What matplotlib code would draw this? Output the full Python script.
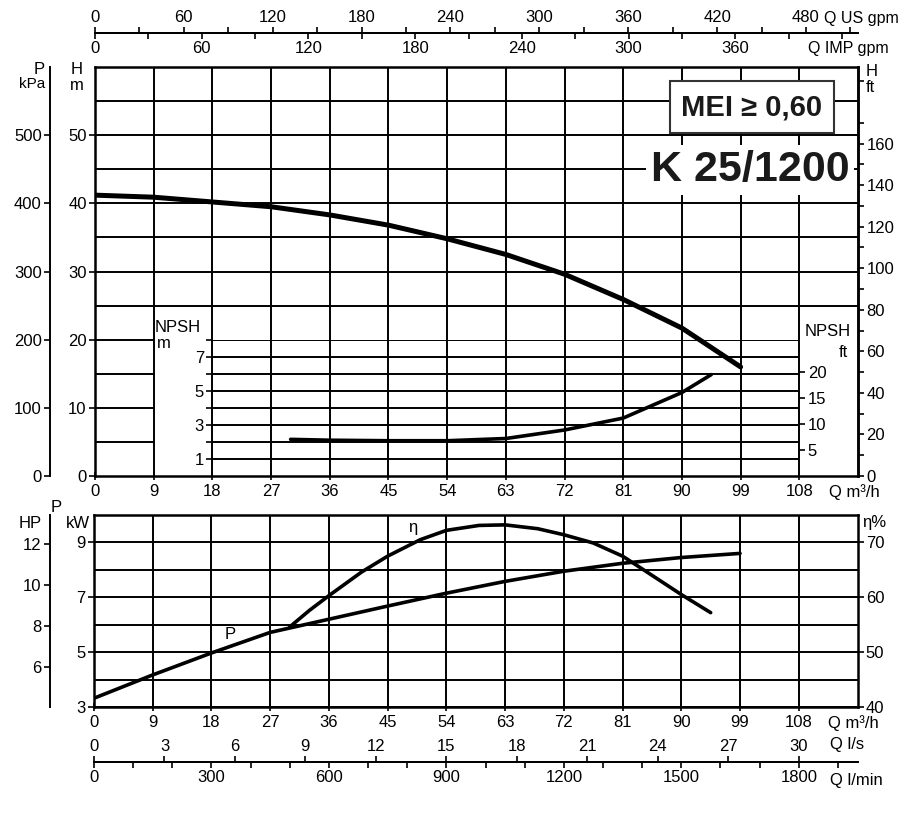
import numpy as np
import matplotlib.pyplot as plt

plt.rcParams['font.family'] = ['Liberation Sans', 'DejaVu Sans']
plt.rcParams['font.size'] = 12

# ---- values ----
q_head = [0, 9, 18, 27, 36, 45, 54, 63, 72, 81, 90, 99]
head_m = [41.2, 40.9, 40.2, 39.5, 38.3, 36.8, 34.8, 32.5, 29.6, 25.9, 21.7, 16.0]

q_npsh = [30, 36, 45, 54, 63, 72, 81, 90, 94.5]
npsh_m = [2.15, 2.1, 2.07, 2.07, 2.2, 2.7, 3.4, 4.9, 5.95]

q_power = [0, 9, 18, 27, 30, 36, 45, 54, 63, 72, 81, 90, 99]
power_kw = [3.32, 4.17, 4.97, 5.72, 5.88, 6.2, 6.68, 7.15, 7.58, 7.95, 8.24, 8.45, 8.6]

q_eff = [30, 33, 36, 41, 45, 50, 54, 59, 63, 68, 72, 76.5, 81, 85, 90, 94.5]
eff_pct = [54.6, 57.6, 60.3, 64.6, 67.5, 70.5, 72.2, 73.1, 73.2, 72.5, 71.4, 69.9, 67.5, 64.4, 60.5, 57.2]

# ---- axis ticks ----
q_ticks = [0, 9, 18, 27, 36, 45, 54, 63, 72, 81, 90, 99, 108]
h_ticks = [0, 10, 20, 30, 40, 50]
h_grid_full = [25, 30, 35, 40, 45, 50, 55]
h_grid_low = [5, 10, 15, 20]
kpa_ticks = [0, 100, 200, 300, 400, 500]
ft_ticks = [0, 20, 40, 60, 80, 100, 120, 140, 160]
ft_minor = [10, 30, 50, 70, 90, 110, 130, 150, 170, 190]
npsh_ticks = [1, 2, 3, 4, 5, 6, 7, 8]
npsh_labels = ['1', '', '3', '', '5', '', '7', '']
npsh_ft_ticks = [5, 10, 15, 20]
usgpm_ticks = [0, 60, 120, 180, 240, 300, 360, 420, 480]
usgpm_minor = [30, 90, 150, 210, 270, 330, 390, 450, 510]
impgpm_ticks = [0, 60, 120, 180, 240, 300, 360]
impgpm_minor = [30, 90, 150, 210, 270, 330, 390, 420]
kw_ticks = [3, 5, 7, 9]
kw_minor = [4, 6, 8]
hp_ticks = [4, 6, 8, 10, 12]
eff_ticks = [40, 50, 60, 70]
ls_ticks = [0, 3, 6, 9, 12, 15, 18, 21, 24, 27, 30]
lmin_ticks = [0, 300, 600, 900, 1200, 1500, 1800]
lmin_minor = [100, 200, 400, 500, 700, 800, 1000, 1100, 1300, 1400, 1600, 1700, 1900]

W, H = 921, 815
LW = 1.4


def box(l, t, r, b):
    return [l / W, 1 - b / H, (r - l) / W, (b - t) / H]


def px(x, y):
    return x / W, 1 - y / H


def style_ticks(a, axis='both'):
    a.tick_params(axis=axis, which='both', direction='out', length=4,
                  width=1.2, colors='k', pad=2)


fig = plt.figure(figsize=(W / 100, H / 100), dpi=100)

# ===================== head / NPSH panel =====================
ax = fig.add_axes(box(95, 67, 858, 476))
ax.set_xlim(0, 117)
ax.set_ylim(0, 60)
for s in ax.spines.values():
    s.set_linewidth(1.8)
ax.set_xticks(q_ticks)
ax.set_xticklabels([str(q) for q in q_ticks])
ax.set_yticks(h_ticks)
ax.grid(axis='x', color='k', lw=LW)
ax.hlines(h_grid_full, 0, 117, color='k', lw=LW)
ax.hlines(h_grid_low, 0, 9, color='k', lw=LW)
style_ticks(ax)
ax.tick_params(axis='x', direction='inout', length=6, pad=3)

ax.plot(q_head, head_m, color='k', lw=3.6, solid_capstyle='round')

# feet on the right
ax_ft = ax.secondary_yaxis('right', functions=(lambda m: m / 0.3048, lambda f: f * 0.3048))
ax_ft.set_yticks(ft_ticks)
ax_ft.set_yticks(ft_minor, minor=True)
ax_ft.spines['right'].set_linewidth(1.8)
style_ticks(ax_ft)

# kPa scale on the far left
ax_kpa = ax.secondary_yaxis((50 - 95) / 763, functions=(lambda m: m * 10, lambda p: p / 10))
ax_kpa.set_yticks(kpa_ticks)
ax_kpa.spines['left'].set_linewidth(1.4)
style_ticks(ax_kpa)

# flow scales on top
loc_top = (476 - 33) / 409
ax_us = ax.secondary_xaxis(loc_top, functions=(lambda q: q * 4.4029, lambda g: g / 4.4029))
ax_us.set_alignment('top')
ax_us.set_xticks(usgpm_ticks)
ax_us.set_xticks(usgpm_minor, minor=True)
ax_us.spines['top'].set_linewidth(1.4)
style_ticks(ax_us)

ax_imp = ax.secondary_xaxis(loc_top, functions=(lambda q: q * 3.6662, lambda g: g / 3.6662))
ax_imp.set_alignment('bottom')
ax_imp.set_xticks(impgpm_ticks)
ax_imp.set_xticks(impgpm_minor, minor=True)
ax_imp.spines['bottom'].set_linewidth(1.4)
style_ticks(ax_imp)

# NPSH sub-chart (H 0..20 m corresponds to NPSH 0..8 m)
axn = ax.inset_axes([18, 0, 90, 20], transform=ax.transData)
axn.set_xlim(18, 108)
axn.set_ylim(0, 8)
axn.patch.set_alpha(0)
for s in axn.spines.values():
    s.set_visible(False)
axn.set_xticks([])
axn.set_yticks(npsh_ticks)
axn.set_yticklabels(npsh_labels)
axn.grid(axis='y', color='k', lw=LW)
style_ticks(axn, 'y')
axn.plot(q_npsh, npsh_m, color='k', lw=2.6, solid_capstyle='round')

axn_ft = axn.secondary_yaxis('right', functions=(lambda m: m * 3.2808, lambda f: f / 3.2808))
axn_ft.set_yticks(npsh_ft_ticks)
axn_ft.spines['right'].set_visible(False)
style_ticks(axn_ft)

# ===================== power / efficiency panel =====================
axb = fig.add_axes(box(94, 515, 857.5, 707))
axb.set_xlim(0, 117)
axb.set_ylim(3, 10)
for s in axb.spines.values():
    s.set_linewidth(1.8)
axb.set_xticks(q_ticks)
axb.set_xticklabels([str(q) for q in q_ticks])
axb.set_yticks(kw_ticks)
axb.set_yticks(kw_minor, minor=True)
axb.grid(axis='x', color='k', lw=LW)
axb.grid(axis='y', which='both', color='k', lw=LW)
style_ticks(axb)
axb.tick_params(axis='x', direction='inout', length=6, pad=3)
axb.tick_params(axis='y', which='minor', length=0)

axb.plot(q_power, power_kw, color='k', lw=2.6, solid_capstyle='round')

axe = axb.twinx()
axe.set_ylim(40, 75)
axe.set_yticks(eff_ticks)
for s in axe.spines.values():
    s.set_visible(False)
style_ticks(axe)
axe.plot(q_eff, eff_pct, color='k', lw=2.6, solid_capstyle='round')

ax_hp = axb.secondary_yaxis((50 - 94) / 763.5, functions=(lambda k: k / 0.7457, lambda h: h * 0.7457))
ax_hp.set_yticks(hp_ticks)
ax_hp.spines['left'].set_linewidth(1.4)
style_ticks(ax_hp)

loc_bot = (707 - 762) / 192
ax_ls = axb.secondary_xaxis(loc_bot, functions=(lambda q: q / 3.6, lambda l: l * 3.6))
ax_ls.set_alignment('top')
ax_ls.set_xticks(ls_ticks)
ax_ls.spines['top'].set_linewidth(1.4)
style_ticks(ax_ls)

ax_lm = axb.secondary_xaxis(loc_bot, functions=(lambda q: q * 1000 / 60, lambda l: l * 60 / 1000))
ax_lm.set_alignment('bottom')
ax_lm.set_xticks(lmin_ticks)
ax_lm.set_xticks(lmin_minor, minor=True)
ax_lm.spines['bottom'].set_linewidth(1.4)
style_ticks(ax_lm)

# ===================== labels =====================
fig.text(*px(45, 70), 'P', ha='right', va='center')
fig.text(*px(45, 84), 'kPa', ha='right', va='center', fontsize=11)
fig.text(*px(77, 70), 'H', ha='center', va='center')
fig.text(*px(77, 86), 'm', ha='center', va='center')
fig.text(*px(866, 72), 'H', ha='left', va='center')
fig.text(*px(866, 88), 'ft', ha='left', va='center')
fig.text(*px(824, 19), 'Q US gpm', ha='left', va='center', fontsize=11.5)
fig.text(*px(808, 49), 'Q IMP gpm', ha='left', va='center', fontsize=11.5)
fig.text(*px(829, 492), 'Q m³/h', ha='left', va='center')
fig.text(*px(155, 328), 'NPSH', ha='left', va='center')
fig.text(*px(157, 343), 'm', ha='left', va='center')
fig.text(*px(851, 331), 'NPSH', ha='right', va='center')
fig.text(*px(848, 353), 'ft', ha='right', va='center')

fig.text(*px(30, 524), 'HP', ha='center', va='center')
fig.text(*px(56, 508), 'P', ha='center', va='center')
fig.text(*px(78, 523), 'kW', ha='center', va='center')
fig.text(*px(862, 523), 'η%', ha='left', va='center')
fig.text(*px(828, 723), 'Q m³/h', ha='left', va='center')
fig.text(*px(830, 745), 'Q l/s', ha='left', va='center')
fig.text(*px(830, 780), 'Q l/min', ha='left', va='center')

axb.text(48.9, 9.55, 'η', ha='center', va='center')
axb.text(20.8, 5.64, 'P', ha='center', va='center')

bold = ['Liberation Sans', 'DejaVu Sans']
fig.text(*px(752, 107), 'MEI ≥ 0,60', ha='center', va='center',
         fontsize=21, fontweight='bold', family=bold, color='#1a1a1a',
         bbox=dict(boxstyle='square,pad=0.4', fc='white', ec='#333333', lw=1.5))
fig.text(*px(750, 170), 'K 25/1200', ha='center', va='center',
         fontsize=31, fontweight='bold', family=bold, color='#1a1a1a',
         bbox=dict(boxstyle='square,pad=0.12', fc='white', ec='none'))

fig.savefig('out.png', dpi=100)
